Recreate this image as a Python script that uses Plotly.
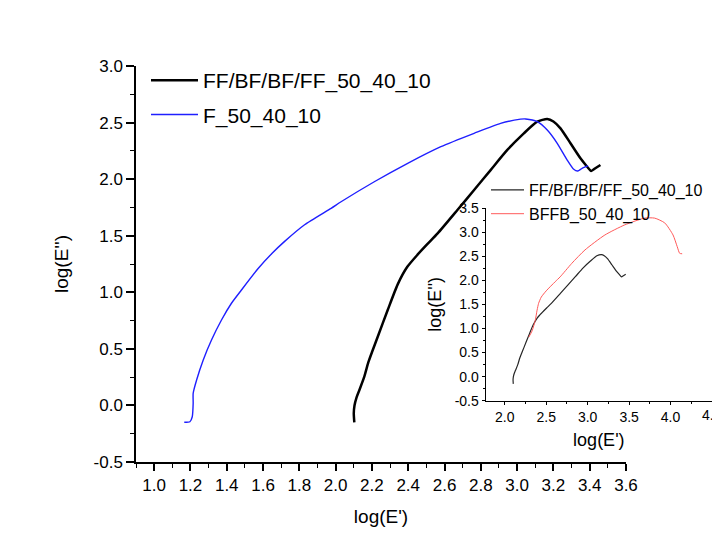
import plotly.graph_objects as go

# ---- data ----
ff_x = [2.103, 2.100, 2.104, 2.115, 2.131, 2.158, 2.180, 2.200, 2.232, 2.287, 2.342, 2.395,
        2.450, 2.505, 2.562, 2.671, 2.763, 2.854, 2.946, 3.037, 3.111, 3.166, 3.200, 3.239,
        3.294, 3.349, 3.386, 3.408, 3.431, 3.459]
ff_y = [-0.150, -0.070, 0.000, 0.070, 0.136, 0.254, 0.380, 0.470, 0.607, 0.843, 1.070, 1.225,
        1.330, 1.425, 1.520, 1.727, 1.904, 2.080, 2.258, 2.405, 2.508, 2.532, 2.510, 2.449,
        2.317, 2.184, 2.110, 2.072, 2.096, 2.125]

f_x = [1.166, 1.197, 1.210, 1.215, 1.215, 1.234, 1.270, 1.316, 1.371, 1.426, 1.481, 1.573,
       1.650, 1.719, 1.829, 1.975, 2.030, 2.213, 2.397, 2.580, 2.763, 2.909, 3.019, 3.047,
       3.111, 3.166, 3.221, 3.276, 3.312, 3.334, 3.358, 3.391]
f_y = [-0.149, -0.144, -0.100, 0.019, 0.107, 0.225, 0.400, 0.578, 0.755, 0.903, 1.020, 1.210,
       1.345, 1.450, 1.597, 1.742, 1.800, 1.977, 2.140, 2.287, 2.405, 2.493, 2.530, 2.532,
       2.508, 2.434, 2.317, 2.169, 2.087, 2.072, 2.096, 2.119]

bffb_x = [2.290, 2.330, 2.368, 2.390, 2.408, 2.440, 2.500, 2.608, 2.668, 2.808, 2.968, 3.208,
          3.448, 3.688, 3.808, 3.930, 4.030, 4.080, 4.110, 4.140]
bffb_y = [0.820, 0.950, 1.170, 1.380, 1.520, 1.650, 1.780, 1.970, 2.070, 2.350, 2.630, 2.940,
          3.150, 3.290, 3.290, 3.190, 2.940, 2.700, 2.560, 2.550]

main_x_ticks = [1.0, 1.2, 1.4, 1.6, 1.8, 2.0, 2.2, 2.4, 2.6, 2.8, 3.0, 3.2, 3.4, 3.6]
main_x_labels = ["1.0", "1.2", "1.4", "1.6", "1.8", "2.0", "2.2", "2.4", "2.6", "2.8",
                 "3.0", "3.2", "3.4", "3.6"]
main_y_ticks = [-0.5, 0.0, 0.5, 1.0, 1.5, 2.0, 2.5, 3.0]
main_y_labels = ["-0.5", "0.0", "0.5", "1.0", "1.5", "2.0", "2.5", "3.0"]
inset_x_ticks = [2.0, 2.5, 3.0, 3.5, 4.0]
inset_x_labels = ["2.0", "2.5", "3.0", "3.5", "4.0"]
inset_edge_tick = 4.5
inset_edge_label = "4.5"
inset_y_ticks = [-0.5, 0.0, 0.5, 1.0, 1.5, 2.0, 2.5, 3.0, 3.5]
inset_y_labels = ["-0.5", "0.0", "0.5", "1.0", "1.5", "2.0", "2.5", "3.0", "3.5"]

FONT = "Arial, Liberation Sans, sans-serif"
W, H = 712, 547

fig = go.Figure()
fig.add_trace(go.Scatter(x=ff_x, y=ff_y, mode="lines", name="FF/BF/BF/FF_50_40_10",
                         line=dict(color="black", width=2.5, shape="spline", smoothing=0.6),
                         legend="legend", legendgroup="a", xaxis="x", yaxis="y"))
fig.add_trace(go.Scatter(x=f_x, y=f_y, mode="lines", name="F_50_40_10",
                         line=dict(color="#1f1fff", width=1.4, shape="spline", smoothing=0.6),
                         legend="legend", legendgroup="b", xaxis="x", yaxis="y"))
fig.add_trace(go.Scatter(x=ff_x, y=ff_y, mode="lines", name="FF/BF/BF/FF_50_40_10",
                         line=dict(color="#262626", width=1.2, shape="spline", smoothing=0.6),
                         legend="legend2", xaxis="x2", yaxis="y2"))
fig.add_trace(go.Scatter(x=bffb_x, y=bffb_y, mode="lines", name="BFFB_50_40_10",
                         line=dict(color="#ff5a5a", width=1.0, shape="spline", smoothing=0.6),
                         legend="legend2", xaxis="x2", yaxis="y2"))


def px_x(p):
    return p / W


def px_y(p):
    return 1 - p / H


axis_common = dict(showline=True, linecolor="black", showgrid=False, zeroline=False,
                   ticks="outside", tickcolor="black", mirror=False, tickmode="array")

fig.update_layout(
    width=W, height=H,
    margin=dict(l=0, r=0, t=0, b=0),
    paper_bgcolor="white", plot_bgcolor="rgba(0,0,0,0)",
    template="none",
    font=dict(family=FONT, color="black"),
    xaxis=dict(**axis_common, domain=[px_x(136), px_x(626)], range=[0.9, 3.6],
               anchor="y", linewidth=1.5, tickwidth=1.5, ticklen=7,
               tickvals=main_x_ticks, ticktext=main_x_labels,
               tickfont=dict(size=17, family=FONT),
               minor=dict(tickmode="linear", tick0=0.9, dtick=0.1, ticklen=4,
                          tickwidth=1.2, ticks="outside", tickcolor="black", showgrid=False),
               title=dict(text="log(E')", font=dict(size=19, family=FONT), standoff=16)),
    yaxis=dict(**axis_common, domain=[px_y(462), px_y(66)], range=[-0.5, 3.0],
               anchor="x", linewidth=1.5, tickwidth=1.5, ticklen=8,
               tickvals=main_y_ticks, ticktext=main_y_labels,
               tickfont=dict(size=17, family=FONT),
               minor=dict(tickmode="linear", tick0=0, dtick=0.25, ticklen=4,
                          tickwidth=1.2, ticks="outside", tickcolor="black", showgrid=False),
               title=dict(text="log(E'')", font=dict(size=19, family=FONT), standoff=20)),
    xaxis2=dict(**axis_common, domain=[px_x(485.7), 1.0], range=[1.77, 4.5],
                anchor="y2", linewidth=1.2, tickwidth=1.0, ticklen=3,
                tickvals=inset_x_ticks, ticktext=inset_x_labels,
                tickfont=dict(size=14, family=FONT),
                minor=dict(tickmode="linear", tick0=2.0, dtick=0.25, ticklen=2,
                           tickwidth=1.0, ticks="outside", tickcolor="black", showgrid=False),
                title=dict(text="log(E')", font=dict(size=18, family=FONT), standoff=9)),
    yaxis2=dict(**axis_common, domain=[px_y(400.7), px_y(208)], range=[-0.5, 3.5],
                anchor="x2", linewidth=1.2, tickwidth=1.0, ticklen=3,
                tickvals=inset_y_ticks, ticktext=inset_y_labels,
                tickfont=dict(size=14, family=FONT),
                minor=dict(tickmode="linear", tick0=0, dtick=0.25, ticklen=2,
                           tickwidth=1.0, ticks="outside", tickcolor="black", showgrid=False),
                title=dict(text="log(E'')", font=dict(size=18, family=FONT), standoff=8)),
    legend=dict(x=px_x(146), y=px_y(60), xanchor="left", yanchor="top",
                bgcolor="rgba(0,0,0,0)", borderwidth=0, itemwidth=47,
                font=dict(size=21, family=FONT), tracegroupgap=4),
    legend2=dict(x=px_x(486), y=px_y(173), xanchor="left", yanchor="top",
                 bgcolor="rgba(0,0,0,0)", borderwidth=0, itemwidth=33,
                 font=dict(size=16, family=FONT), tracegroupgap=0),
    showlegend=True,
)

# edge tick label of the inset x axis, partly cut by the right border as in the reference
fig.add_annotation(x=inset_edge_tick, xref="x2", y=px_y(400.7), yref="paper",
                   yanchor="top", yshift=-4, text=inset_edge_label, showarrow=False,
                   font=dict(size=14, family=FONT, color="black"), xanchor="center")

fig.write_html("out.html")
